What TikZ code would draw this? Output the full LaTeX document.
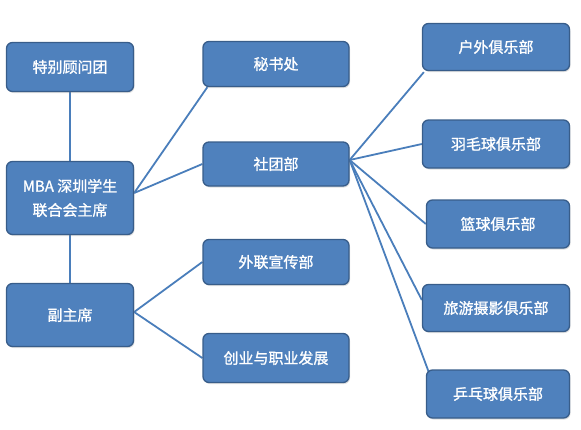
\documentclass[tikz,border=0pt]{standalone}
\usepackage{fontspec}
\setmainfont{Noto Sans CJK SC}[FakeBold=1.2]
\usetikzlibrary{shadows,backgrounds}
\definecolor{boxblue}{HTML}{4F81BD}
\definecolor{boxedge}{HTML}{385D8A}
\definecolor{linkblue}{HTML}{4A7EBB}
\begin{document}
\begin{tikzpicture}[
  x=1pt, y=-1pt,
  every node/.style={draw=boxedge, fill=boxblue, line width=1.3pt, rounded corners=6pt, align=center,
    text=white, font=\fontsize{15}{24}\selectfont, inner sep=3pt,
    drop shadow={opacity=0.25, shadow xshift=1pt, shadow yshift=-1.5pt}},
  link/.style={draw=linkblue, line width=1.8pt}
]
\useasboundingbox (0,0) rectangle (581,429);
% left column
\node (guwen) [minimum width=127pt, minimum height=49pt] at (70,67) {特别顾问团};
\node (zhuxi) [minimum width=127pt, minimum height=73pt] at (70,198) {MBA 深圳学生\\联合会主席};
\node (fu) [minimum width=127pt, minimum height=63pt] at (70,315) {副主席};
% middle column
\node (mishu) [minimum width=146pt, minimum height=45pt] at (276,64) {秘书处};
\node (shetuan) [minimum width=146pt, minimum height=44pt] at (276,164) {社团部};
\node (wailian) [minimum width=146pt, minimum height=45pt] at (276,262) {外联宣传部};
\node (chuangye) [minimum width=146pt, minimum height=49pt] at (276,358) {创业与职业发展};
% clubs
\node (huwai) [minimum width=147pt, minimum height=47pt] at (496,47) {户外俱乐部};
\node (yumao) [minimum width=147pt, minimum height=48pt] at (496,144) {羽毛球俱乐部};
\node (lanqiu) [minimum width=143pt, minimum height=48pt] at (498,224) {篮球俱乐部};
\node (lvyou) [minimum width=147pt, minimum height=47pt] at (496,308) {旅游摄影俱乐部};
\node (pingpang) [minimum width=143pt, minimum height=48pt] at (498,394) {乒乓球俱乐部};
\begin{scope}[on background layer]
\draw[link] (guwen.south) -- (zhuxi.north);
\draw[link] (zhuxi.south) -- (fu.north);
\draw[link] ([yshift=5pt]zhuxi.east) -- ([xshift=5pt]mishu.south west);
\draw[link] ([yshift=5pt]zhuxi.east) -- (shetuan.west);
\draw[link] ([yshift=3pt]fu.east) -- (wailian.west);
\draw[link] ([yshift=3pt]fu.east) -- (chuangye.west);
\draw[link] ([yshift=4pt]shetuan.east) -- ([xshift=2pt,yshift=-1pt]huwai.south west);
\draw[link] ([yshift=4pt]shetuan.east) -- (yumao.west);
\draw[link] ([yshift=4pt]shetuan.east) -- (lanqiu.west);
\draw[link] ([yshift=4pt]shetuan.east) -- ([yshift=8pt]lvyou.west);
\draw[link] ([yshift=4pt]shetuan.east) -- ([xshift=3pt,yshift=-3pt]pingpang.north west);
\end{scope}
\end{tikzpicture}
\end{document}
